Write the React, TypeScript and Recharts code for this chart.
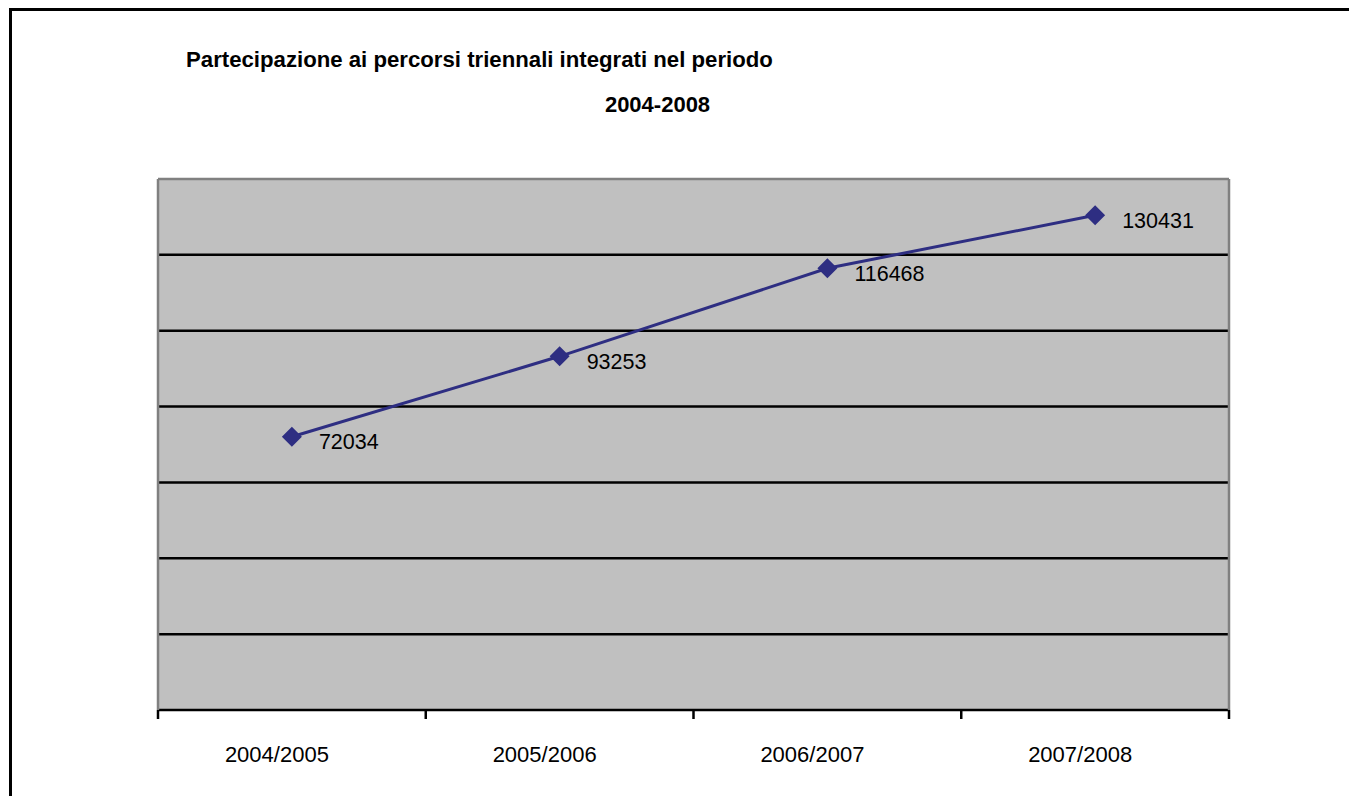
import React from 'react';
import { LineChart, Line, XAxis, YAxis, CartesianGrid, ReferenceLine, LabelList } from 'recharts';

const categories = ['2004/2005', '2005/2006', '2006/2007', '2007/2008'];
const participants = [72034, 93253, 116468, 130431];
const yTicks = [0, 20000, 40000, 60000, 80000, 100000, 120000, 140000];
const gridValues = [20000, 40000, 60000, 80000, 100000, 120000];

const titleLine1 = 'Partecipazione ai percorsi triennali integrati nel periodo';
const titleLine2 = '2004-2008';

const data = categories.map((year, i) => ({ year, value: participants[i] }));

const WIDTH = 1349;
const HEIGHT = 796;
const PLOT_LEFT = 158;
const PLOT_RIGHT = 1229;
const PLOT_TOP = 179;
const PLOT_BOTTOM = 710;
const X_AXIS_HEIGHT = 60;
const BAND = (PLOT_RIGHT - PLOT_LEFT) / categories.length;

const NAVY = '#2E2E82';
const FONT = "'Liberation Sans', Arial, Helvetica, sans-serif";

const CategoryTick = (props: any) => {
  const { x, y, payload, index, visibleTicksCount } = props;
  if (!payload || typeof x !== 'number' || typeof y !== 'number') {
    return <g />;
  }
  const isLast = index === (visibleTicksCount ?? categories.length) - 1;
  return (
    <g>
      <line x1={x - BAND / 2} x2={x - BAND / 2} y1={y} y2={y + 9} stroke="#000" strokeWidth={2.5} />
      {isLast && <line x1={x + BAND / 2} x2={x + BAND / 2} y1={y} y2={y + 9} stroke="#000" strokeWidth={2.5} />}
      <text x={x - 15} y={y + 52} textAnchor="middle" fontSize={22} fontFamily={FONT} fill="#000">
        {payload.value}
      </text>
    </g>
  );
};

const Diamond = (props: any) => {
  const { cx, cy, index } = props;
  if (typeof cx !== 'number' || typeof cy !== 'number') return <g key={index} />;
  const r = 10;
  return (
    <polygon
      key={index}
      points={`${cx},${cy - r} ${cx + r},${cy} ${cx},${cy + r} ${cx - r},${cy}`}
      fill={NAVY}
    />
  );
};

const ValueLabel = (props: any) => {
  const { x, y, value } = props;
  if (typeof x !== 'number' || typeof y !== 'number') return <g />;
  return (
    <text x={x + 27} y={y + 12.5} fontSize={21.5} fontFamily={FONT} fill="#000">
      {value}
    </text>
  );
};

export default function App() {
  return (
    <div style={{ position: 'relative', width: WIDTH, height: HEIGHT, background: '#fff' }}>
      <style>{'body{margin:0}'}</style>
      <LineChart
        width={WIDTH}
        height={HEIGHT}
        data={data}
        margin={{
          top: PLOT_TOP,
          left: PLOT_LEFT - 1,
          right: WIDTH - PLOT_RIGHT - 1,
          bottom: HEIGHT - PLOT_BOTTOM - X_AXIS_HEIGHT,
        }}
      >
        <CartesianGrid fill="#C0C0C0" fillOpacity={1} vertical={false} horizontal={false} />
        {gridValues.map((v) => (
          <ReferenceLine key={v} y={v} stroke="#000" strokeWidth={2.5} />
        ))}
        <ReferenceLine y={140000} stroke="#808080" strokeWidth={2.5} />
        <XAxis
          dataKey="year"
          interval={0}
          height={X_AXIS_HEIGHT}
          padding={{ left: BAND / 2, right: BAND / 2 }}
          axisLine={{ stroke: '#000', strokeWidth: 2.5 }}
          tickLine={false}
          tickSize={0}
          tickMargin={0}
          tick={CategoryTick}
        />
        <YAxis
          width={1}
          domain={[0, 140000]}
          ticks={yTicks}
          tick={false}
          tickLine={false}
          axisLine={{ stroke: '#808080', strokeWidth: 2.5 }}
        />
        <YAxis
          yAxisId="right"
          orientation="right"
          width={1}
          domain={[0, 140000]}
          ticks={yTicks}
          tick={false}
          tickLine={false}
          axisLine={{ stroke: '#808080', strokeWidth: 2.5 }}
        />
        <Line
          type="linear"
          dataKey="value"
          stroke={NAVY}
          strokeWidth={3}
          dot={(p: any) => <Diamond {...p} />}
          activeDot={false}
          isAnimationActive={false}
        >
          <LabelList dataKey="value" content={ValueLabel} />
        </Line>
      </LineChart>
      <svg
        width={WIDTH}
        height={HEIGHT}
        style={{ position: 'absolute', left: 0, top: 0, pointerEvents: 'none' }}
      >
        <line x1={9} x2={WIDTH} y1={9.5} y2={9.5} stroke="#000" strokeWidth={3} />
        <line x1={10.5} x2={10.5} y1={8} y2={HEIGHT} stroke="#000" strokeWidth={3} />
        <text x={186} y={66.5} fontSize={22.2} fontWeight="bold" fontFamily={FONT} fill="#000">
          {titleLine1}
        </text>
        <text x={657.5} y={111.5} fontSize={22} fontWeight="bold" fontFamily={FONT} fill="#000" textAnchor="middle">
          {titleLine2}
        </text>
      </svg>
    </div>
  );
}
